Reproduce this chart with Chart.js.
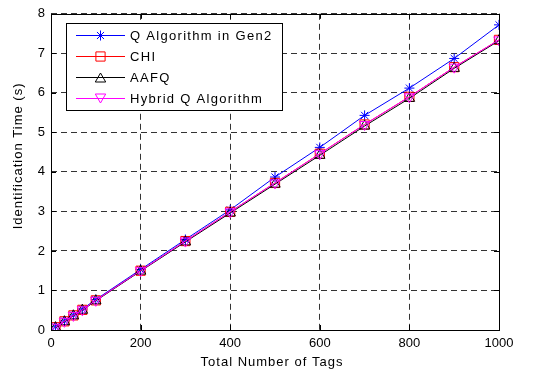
<!DOCTYPE html>
<html>
<head>
<meta charset="utf-8">
<script src="https://cdn.jsdelivr.net/npm/chart.js@4/dist/chart.umd.min.js"></script>
<style>
html,body{margin:0;padding:0;background:#fff;}
#wrap{width:540px;height:374px;position:relative;}
</style>
</head>
<body>
<div id="wrap"><canvas id="c" width="540" height="374"></canvas></div>
<script>
const tagCounts = [10, 30, 50, 70, 100, 200, 300, 400, 500, 600, 700, 800, 900, 1000];
const qGen2 =   [0.08, 0.23, 0.38, 0.53, 0.77, 1.53, 2.29, 3.04, 3.87, 4.62, 5.43, 6.12, 6.87, 7.72];
const chi =     [0.07, 0.22, 0.37, 0.51, 0.75, 1.50, 2.25, 2.99, 3.72, 4.46, 5.20, 5.90, 6.65, 7.34];
const aafq =    [0.06, 0.21, 0.36, 0.50, 0.74, 1.49, 2.23, 2.96, 3.69, 4.42, 5.16, 5.86, 6.62, 7.32];
const hybridQ = [0.07, 0.22, 0.37, 0.51, 0.75, 1.50, 2.25, 2.99, 3.72, 4.46, 5.20, 5.90, 6.65, 7.34];
const seriesNames = ['Q Algorithm in Gen2', 'CHI', 'AAFQ', 'Hybrid Q Algorithm'];
const xTicks = [0, 200, 400, 600, 800, 1000];
const yTicks = [0, 1, 2, 3, 4, 5, 6, 7, 8];
const xTitle = 'Total Number of Tags';
const yTitle = 'Identification Time (s)';

const FONT = "'Liberation Sans', Arial, Helvetica, sans-serif";

function pts(vals){ return tagCounts.map((x,i)=>({x:x,y:vals[i]})); }

const styles = [
  {color:'#0000ff', pointStyle:'star', radius:5, rotation:0},
  {color:'#ff0000', pointStyle:'rect', radius:6.5, rotation:0},
  {color:'#000000', pointStyle:'triangle', radius:6, rotation:0},
  {color:'#ff00ff', pointStyle:'triangle', radius:6, rotation:180}
];
const seriesVals = [qGen2, chi, aafq, hybridQ];

const datasets = seriesVals.map((v,i)=>({
  label: seriesNames[i],
  data: pts(v),
  borderColor: styles[i].color,
  backgroundColor: 'rgba(0,0,0,0)',
  borderWidth: 1,
  pointStyle: styles[i].pointStyle,
  pointRadius: styles[i].radius,
  pointRotation: styles[i].rotation,
  pointBorderColor: styles[i].color,
  pointBackgroundColor: 'rgba(0,0,0,0)',
  pointBorderWidth: 1,
  tension: 0,
  fill: false,
  order: 3 - i
}));

function drawMarker(ctx, style, x, y){
  const r = style.radius;
  ctx.save();
  ctx.strokeStyle = style.color;
  ctx.lineWidth = 1;
  ctx.beginPath();
  if (style.pointStyle === 'star'){
    ctx.moveTo(x - r, y); ctx.lineTo(x + r, y);
    ctx.moveTo(x, y - r); ctx.lineTo(x, y + r);
    const d = r * Math.SQRT1_2;
    ctx.moveTo(x - d, y - d); ctx.lineTo(x + d, y + d);
    ctx.moveTo(x - d, y + d); ctx.lineTo(x + d, y - d);
  } else if (style.pointStyle === 'rect'){
    const s = r * Math.SQRT1_2;
    ctx.rect(x - s, y - s, 2*s, 2*s);
  } else if (style.pointStyle === 'triangle'){
    const rot = style.rotation * Math.PI / 180;
    for (let k=0;k<3;k++){
      const a = rot - Math.PI/2 + k * 2*Math.PI/3;
      const px = x + Math.cos(a) * r, py = y + Math.sin(a) * r + (style.rotation? -r*0.25 : r*0.25);
      if (k===0) ctx.moveTo(px,py); else ctx.lineTo(px,py);
    }
    ctx.closePath();
  }
  ctx.stroke();
  ctx.restore();
}

const framePlugin = {
  id: 'frame',
  beforeDatasetsDraw(chart){
    const {ctx, chartArea: a, scales} = chart;
    ctx.save();
    ctx.strokeStyle = '#000';
    ctx.lineWidth = 1;
    const tl = 5;
    ctx.beginPath();
    xTicks.forEach(t=>{
      const px = Math.round(scales.x.getPixelForValue(t)) + 0.5;
      ctx.moveTo(px, a.bottom); ctx.lineTo(px, a.bottom - tl);
      ctx.moveTo(px, a.top); ctx.lineTo(px, a.top + tl);
    });
    yTicks.forEach(t=>{
      const py = Math.round(scales.y.getPixelForValue(t)) + 0.5;
      ctx.moveTo(a.left, py); ctx.lineTo(a.left + tl, py);
      ctx.moveTo(a.right, py); ctx.lineTo(a.right - tl, py);
    });
    ctx.stroke();
    ctx.restore();
  },
  afterDraw(chart){
    const {ctx, chartArea: a} = chart;
    ctx.save();
    ctx.strokeStyle = '#000';
    ctx.lineWidth = 1;
    ctx.strokeRect(Math.round(a.left)+0.5, Math.round(a.top)+0.5, Math.round(a.right-a.left), Math.round(a.bottom-a.top));
    // axis titles
    ctx.fillStyle = '#000';
    ctx.font = '13px ' + FONT;
    ctx.textBaseline = 'middle';
    ctx.textAlign = 'center';
    try { ctx.letterSpacing = '1px'; } catch(e) {}
    ctx.fillText(xTitle, (a.left + a.right) / 2 - 3, 362);
    ctx.save();
    ctx.translate(18.5, (a.top + a.bottom) / 2 - 16);
    ctx.rotate(-Math.PI / 2);
    ctx.fillText(yTitle, 0, 0);
    ctx.restore();
    // legend
    const bx = 66.5, by = 23.5, bw = 216, bh = 87;
    ctx.fillStyle = '#fff';
    ctx.fillRect(bx, by, bw, bh);
    ctx.strokeRect(bx, by, bw, bh);
    const rows = [35, 56, 77, 98];
    try { ctx.letterSpacing = '1.3px'; } catch(e) {}
    ctx.textAlign = 'left';
    seriesNames.forEach((n,i)=>{
      const y = rows[i] + 0.5;
      ctx.strokeStyle = styles[i].color;
      ctx.beginPath();
      ctx.moveTo(76, y); ctx.lineTo(125, y);
      ctx.stroke();
      drawMarker(ctx, styles[i], 100.5, y);
      ctx.fillStyle = '#000';
      ctx.fillText(n, 130, rows[i] + 1);
    });
    try { ctx.letterSpacing = '0px'; } catch(e) {}
    ctx.restore();
  }
};

new Chart(document.getElementById('c'), {
  type: 'line',
  data: { datasets: datasets },
  options: {
    responsive: false,
    animation: false,
    devicePixelRatio: 1,
    layout: { padding: { top: 12, right: 41, left: 0, bottom: 0 } },
    plugins: { legend: { display: false }, tooltip: { enabled: false } },
    scales: {
      x: {
        type: 'linear', min: 0, max: 1000,
        afterFit(s){ s.height = 44; },
        afterBuildTicks(s){ s.ticks = xTicks.map(v=>({value:v})); },
        ticks: { color: '#000', padding: 6, font: { family: FONT, size: 13 }, maxRotation: 0, callback: v => String(v) },
        grid: { color: '#333', lineWidth: 1, drawTicks: false },
        border: { display: false, dash: [6, 4] },
        title: { display: false }
      },
      y: {
        type: 'linear', min: 0, max: 8,
        afterFit(s){ s.width = 51; },
        afterBuildTicks(s){ s.ticks = yTicks.map(v=>({value:v})); },
        ticks: { color: '#000', padding: 6, font: { family: FONT, size: 13 }, callback: v => String(v) },
        grid: { color: '#333', lineWidth: 1, drawTicks: false },
        border: { display: false, dash: [6, 4] },
        title: { display: false }
      }
    }
  },
  plugins: [framePlugin]
});
</script>
</body>
</html>
